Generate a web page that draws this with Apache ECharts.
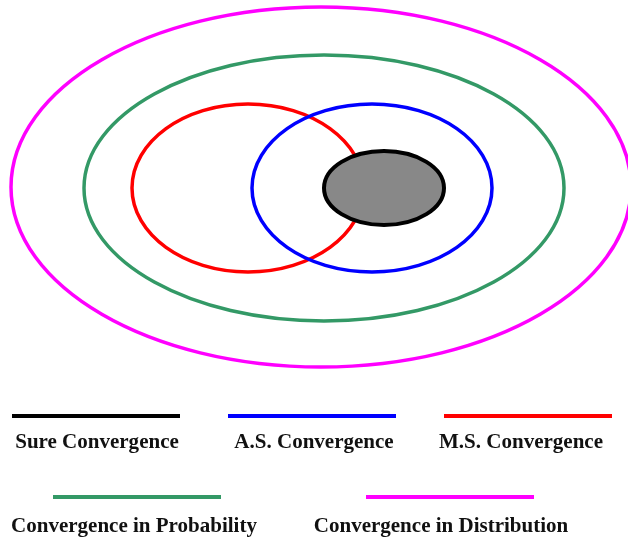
<!DOCTYPE html>
<html><head><meta charset="utf-8">
<script src="https://cdn.jsdelivr.net/npm/echarts@6/dist/echarts.min.js"></script>
<style>html,body{margin:0;padding:0;background:#fff}#c{width:628px;height:537px}</style>
</head><body><div id="c"></div>
<script>
// Sets (ellipses): name, centre x, centre y, radius x, radius y (diagram units)
const setNames = ['Convergence in Distribution','Convergence in Probability','M.S. Convergence','A.S. Convergence','Sure Convergence'];
const centerX = [321, 324, 248, 372, 384];
const centerY = [187, 188, 188, 188, 188];
const radiusX = [310, 240, 116, 120, 60];
const radiusY = [180, 133, 84, 84, 37];
const strokeColors = ['#ff00ff','#339966','#ff0000','#0000ff','#000000'];
const fillColors = ['none','none','none','none','#888888'];

// Legend (two rows)
const legendRow1 = ['Sure Convergence','A.S. Convergence','M.S. Convergence'];
const legendRow1Colors = ['#000000','#0000ff','#ff0000'];
const legendRow2 = ['Convergence in Probability','Convergence in Distribution'];
const legendRow2Colors = ['#339966','#ff00ff'];

const chart = echarts.init(document.getElementById('c'), null, {renderer:'canvas'});
const data = setNames.map((n,i)=>({name:n, value:[centerX[i],centerY[i],radiusX[i],radiusY[i]], itemStyle:{color:strokeColors[i]}}));

const graphics = [];
const font = 'bold 22px "Liberation Serif", "Times New Roman", serif';
function legendItem(x, yLine, tx, yText, name, color){
  graphics.push({type:'line', shape:{x1:x, y1:yLine, x2:x+168, y2:yLine}, style:{stroke:color, lineWidth:4}});
  graphics.push({type:'text', x:tx, y:yText, scaleX:0.955, style:{text:name, font:font, fill:'#111', textAlign:'center', textVerticalAlign:'middle'}});
}
const row1X = [12, 228, 444];
const row1T = [97, 314, 521];
legendRow1.forEach((n,i)=>legendItem(row1X[i], 416, row1T[i], 442, n, legendRow1Colors[i]));
const row2X = [53, 366];
const row2T = [134, 441];
legendRow2.forEach((n,i)=>legendItem(row2X[i], 497, row2T[i], 526, n, legendRow2Colors[i]));

chart.setOption({
  animation:false,
  grid:{left:0,right:0,top:0,bottom:0},
  xAxis:{type:'value',min:0,max:628,show:false},
  yAxis:{type:'value',min:0,max:537,inverse:true,show:false},
  series:[{
    type:'custom',
    clip:true,
    data:data,
    renderItem:function(params, api){
      const i = params.dataIndex;
      const c = api.coord([api.value(0), api.value(1)]);
      const s = api.size([api.value(2), api.value(3)]);
      return {type:'ellipse', shape:{cx:c[0], cy:c[1], rx:s[0], ry:s[1]},
        style:{fill:fillColors[i]==='none'?null:fillColors[i], stroke:strokeColors[i], lineWidth:i===4?4:3.5}};
    }
  }],
  graphic:graphics
});
</script></body></html>
